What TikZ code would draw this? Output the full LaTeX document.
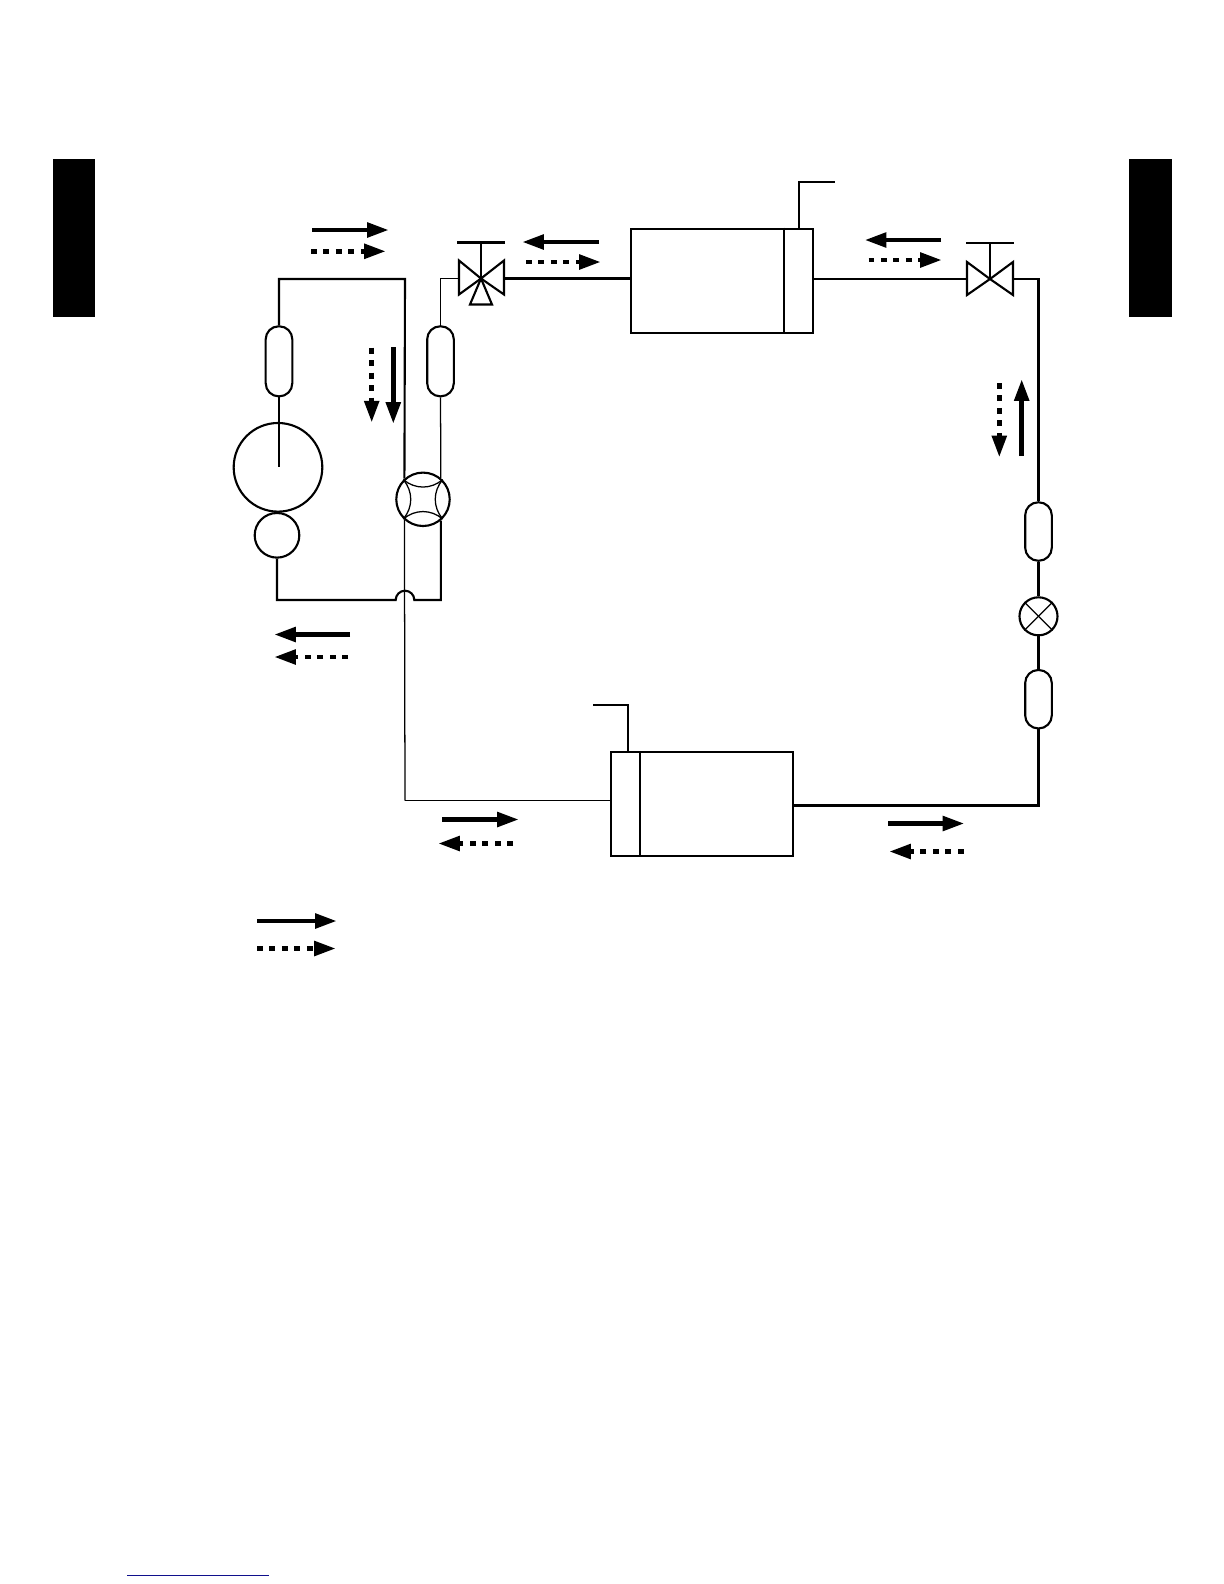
\documentclass[tikz,border=0pt]{standalone}
\usetikzlibrary{arrows.meta}

\definecolor{linkblue}{RGB}{16,16,140}

\tikzset{
  pipe/.style={line width=0.6pt},
  thinpipe/.style={line width=0.36pt},
  capsule/.style={draw,line width=0.6pt,rounded corners=0.13cm,minimum width=0.266cm,minimum height=0.7cm,inner sep=0},
  ball/.style={draw,line width=0.6pt,circle,inner sep=0},
  exchanger/.style={draw,line width=0.6pt,rectangle,inner sep=0,minimum width=1.82cm,minimum height=1.04cm},
  flow/.style={line width=1.4pt,-{Triangle[length=6.2pt,width=4pt]}},
  flowdash/.style={flow,dash pattern=on 1.7pt off 1.85pt}
}

\begin{document}
\begin{tikzpicture}[x=0.01cm,y=-0.01cm]
\useasboundingbox (0,0) rectangle (1224,1584);

% Side tabs
\fill (52.5,158.5) rectangle (95,317);
\fill (1129,158.5) rectangle (1172,317);
% Link line
\draw[linkblue,line width=0.36pt] (127,1575.3) -- (269,1575.3);

% Compressor
\node[ball,minimum size=0.886cm] (compressor) at (278,467.3) {};
\node[ball,minimum size=0.446cm] (accumulator) at (277,535.3) {};
\node[capsule] (filterA) at (279,361.3) {};
\draw[pipe] (filterA.south) -- (filterA.south |- compressor.center);

% Four way valve
\node[ball,minimum size=0.534cm] (fourway) at (423,499.3) {};
\foreach \a/\b in {45/135,135/225,225/315,315/45}
  \draw[thinpipe] (fourway.\a) to[bend left=40] (fourway.\b);
\node[capsule] (filterB) at (440.5,361.3) {};

% Valves
\coordinate (valveA) at (481,278.5);
\draw[pipe] (valveA) -- ++(-22,-18) -- ++(0,18) coordinate(a1) -- ++(0,16) -- cycle;
\draw[pipe] (valveA) -- ++(23,-18) -- ++(0,18) coordinate(a2) -- ++(0,16) -- cycle;
\draw[pipe] (valveA) -- ++(-11,26) -- ++(22,0) -- cycle;
\draw[pipe] (valveA) -- ++(0,-36) coordinate(a3);
\draw[pipe] (a3) ++(-24,0) -- ++(48,0);

\coordinate (valveB) at (990,279);
\draw[pipe] (valveB) -- ++(-23,-17) -- ++(0,17) coordinate(b1) -- ++(0,16) -- cycle;
\draw[pipe] (valveB) -- ++(23,-17) -- ++(0,17) coordinate(b2) -- ++(0,16) -- cycle;
\draw[pipe] (valveB) -- ++(0,-36) coordinate(b3);
\draw[pipe] (b3) ++(-24,0) -- ++(48,0);

% Heat exchangers
\node[exchanger] (coilA) at (722,280.7) {};
\draw[pipe] (coilA.north east) ++(-30,0) -- ++(0,104);
\draw[pipe] (coilA.north east) ++(-15,0) -- ++(0,-46) -- ++(36,0);

\node[exchanger] (coilB) at (702,804) {};
\draw[thinpipe] (coilB.north west) ++(30,0) -- ++(0,104);
\draw[pipe] (coilB.north west) ++(18,0) -- ++(0,-46) -- ++(-35,0);

% Expansion valve
\node[capsule,minimum height=0.584cm] (filterC) at (1038.5,531.5) {};
\node[ball,minimum size=0.38cm] (expansion) at (1038.5,616.3) {};
\node[capsule,minimum height=0.584cm] (filterD) at (1038.5,699.2) {};
\draw[thinpipe] (expansion.45) -- (expansion.225);
\draw[thinpipe] (expansion.135) -- (expansion.315);

% Pipes
\coordinate (jumpL) at (395.7,600);
\coordinate (portA) at (405,279);
\coordinate (portB) at (405,800.5);
\coordinate (portD) at (1038.5,805.5);
\draw[pipe] (filterA.north) |- (portA) -- (fourway.132);
\draw[thinpipe] (fourway.228) -- (portB);
\draw[pipe] (accumulator.south) |- (jumpL) arc[start angle=180,end angle=0,radius=0.093cm] -| (fourway.310);
\draw[thinpipe] (portB) -- (portB -| coilB.west);
\draw[thinpipe] (filterB.south) -- (fourway.50);
\draw[thinpipe] (filterB.north) |- (a1);
\draw[pipe] (a2) -- (a2 -| coilA.west);
\draw[pipe] (b1) -- (b1 -| coilA.east);
\draw[pipe] (b2) -| (filterC.north);
\draw[pipe] (filterC.south) -- (expansion.north);
\draw[pipe] (expansion.south) -- (filterD.north);
\draw[pipe] (filterD.south) -- (portD) -- (portD -| coilB.east);

% Flow arrows
\draw[flow] (312,230) -- ++(77,0);
\draw[flowdash] (311,251.3) -- ++(75,0);
\draw[flow] (393.3,347) -- ++(0,77);
\draw[flowdash] (371.7,347.7) -- ++(0,75);
\draw[flow] (350,634.5) -- ++(-76,0);
\draw[flowdash] (348,657) -- ++(-74,0);
\draw[flow] (599,242) -- ++(-77,0);
\draw[flowdash] (526,262) -- ++(75,0);
\draw[flow] (941,240) -- ++(-76.5,0);
\draw[flowdash] (868.5,260) -- ++(73.5,0);
\draw[flow] (1021.7,456) -- ++(0,-77);
\draw[flowdash] (999.3,383) -- ++(0,74.5);
\draw[flow] (442,819.5) -- ++(77,0);
\draw[flowdash] (513,843.5) -- ++(-75,0);
\draw[flow] (888,823.5) -- ++(76.5,0);
\draw[flowdash] (963.5,851.5) -- ++(-74.5,0);

% Legend
\draw[flow] (257,921) -- ++(80,0);
\draw[flowdash] (257,948.5) -- ++(79,0);
\end{tikzpicture}
\end{document}
